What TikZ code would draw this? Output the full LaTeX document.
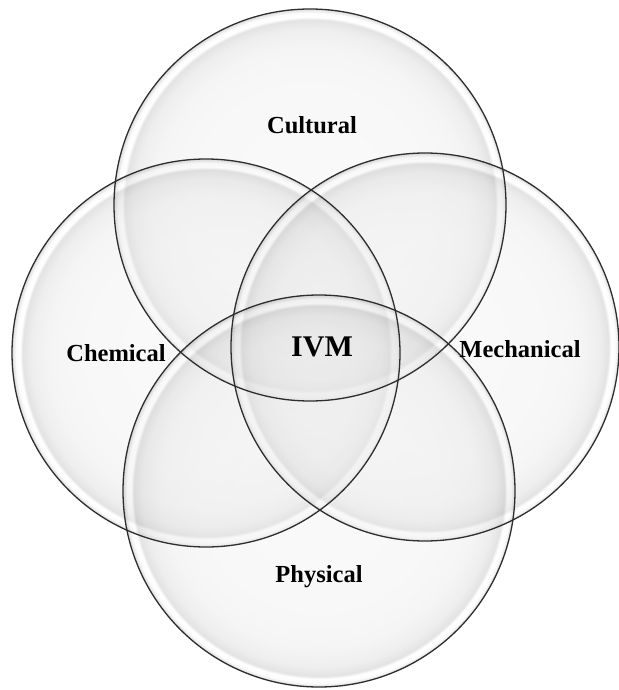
\documentclass[tikz,border=0pt]{standalone}
\usepackage{fontspec}
\setmainfont{Liberation Serif}
\usetikzlibrary{positioning}
% glassy look of each set (rim of the path at 25bp)
\pgfdeclareradialshading{glassball}{\pgfpoint{0bp}{0bp}}{color(0bp)=(black!7); color(15bp)=(black!9); color(20bp)=(black!13); color(22.5bp)=(black!22); color(23.6bp)=(black!36); color(24bp)=(black!0); color(24.5bp)=(black!4); color(25bp)=(black!45); color(50bp)=(black!45)}

\begin{document}
\begin{tikzpicture}[x=1pt,y=-1pt,outer sep=0pt,inner sep=0pt]
      \tikzset{setcircle/.style={circle,shade,shading=glassball,fill opacity=0.3,minimum size=#1}}
      \tikzset{ringline/.style={draw=black!82,line width=1.3pt}}
      \tikzset{setname/.style={anchor=base,font=\bfseries\fontsize{24.5}{28}\selectfont}}

      \useasboundingbox (0,0) rectangle (618,690);

      \node [setcircle=392pt] (cultural) at (310,205) {};
      \node [setcircle=388pt] (chemical) at (206,353) {};
      \node [setcircle=388pt] (mechanical) at (425,347) {};
      \node [setcircle=392pt] (physical) at (319,491) {};

      \foreach \n/\r in {cultural/196,chemical/194,mechanical/194,physical/196}
        \draw [ringline] (\n.center) circle (\r);

      \node [setname] (tcultural) at (312,133) {Cultural};
      \node [setname] (tchemical) at (116,361) {Chemical};
      \node [setname,font=\bfseries\fontsize{30}{34}\selectfont] (tivm) at (322,356) {IVM};
      \node [setname] (tmechanical) at (520,357) {Mechanical};
      \node [setname] (tphysical) at (319,582) {Physical};
\end{tikzpicture}
\end{document}
